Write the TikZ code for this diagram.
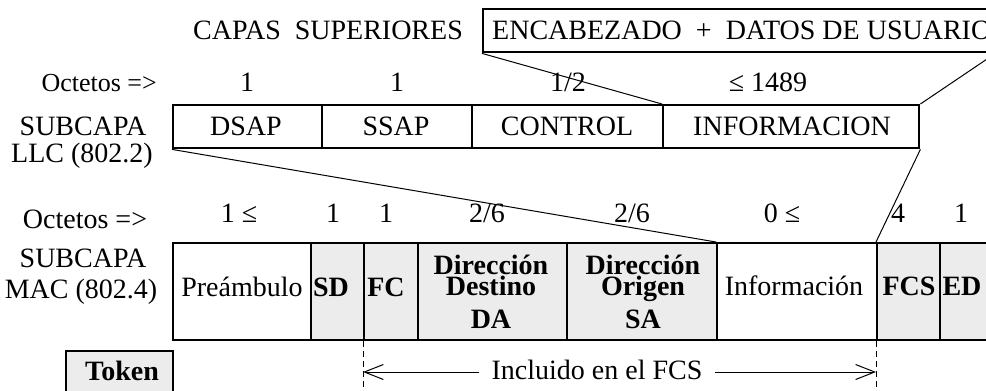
\documentclass[tikz,border=0pt]{standalone}
\usepackage{fontspec}
\setmainfont{Liberation Serif}
\usetikzlibrary{arrows.meta}
\definecolor{fieldgray}{RGB}{236,236,236}
\begin{document}
\begin{tikzpicture}[x=1pt,y=-1pt,
  every node/.style={font=\fontsize{28}{31}\selectfont, inner sep=0pt},
  field/.style={draw, line width=2.4pt, inner sep=0pt, anchor=north west},
  gfield/.style={field, fill=fieldgray},
  lbl/.style={anchor=base},
  blbl/.style={anchor=base, font=\fontsize{28}{31}\selectfont\bfseries},
  conn/.style={line width=1pt},
  dashline/.style={line width=1pt, dash pattern=on 6pt off 4pt},
  arr/.style={line width=1pt, -{Straight Barb[length=19pt,width=15pt]}}
]
\useasboundingbox (0,0) rectangle (986,391);

% upper layer box
\node[field, minimum width=511pt, minimum height=43pt] (enc) at (482,8) {};
\node[lbl, anchor=base west] (enct) at (492,39) {ENCABEZADO\ \ +\ \ DATOS DE USUARIO};
\node[lbl] (capas) at (328,39) {CAPAS\ \ SUPERIORES};

% LLC
\node[field, minimum width=149pt, minimum height=43pt] (dsap) at (172,104) {};
\node[field, minimum width=150pt, minimum height=43pt] (ssap) at (321,104) {};
\node[field, minimum width=191pt, minimum height=43pt] (ctrl) at (471,104) {};
\node[field, minimum width=256pt, minimum height=43pt] (infl) at (662,104) {};
\node[lbl] (tdsap) at (246,135) {DSAP};
\node[lbl] (tssap) at (396,135) {SSAP};
\node[lbl] (tctrl) at (567,135) {CONTROL};
\node[lbl] (tinfl) at (792,135) {INFORMACION};

\node[lbl, anchor=base east, font=\fontsize{26}{29}\selectfont] (oct1) at (157,91) {Octetos =>};
\node[lbl] (n1) at (247,91) {1};
\node[lbl] (n2) at (397,91) {1};
\node[lbl] (n3) at (568,91) {1/2};
\node[lbl] (n4) at (768,91) {≤ 1489};
\node[lbl] (sub1) at (83,135) {SUBCAPA};
\node[lbl] (llc) at (82,162) {LLC (802.2)};

% MAC
\node[field, minimum width=138pt, minimum height=97pt] (pre) at (172,242) {};
\node[gfield, minimum width=53pt, minimum height=97pt] (sd) at (310,242) {};
\node[gfield, minimum width=54pt, minimum height=97pt] (fc) at (363,242) {};
\node[gfield, minimum width=149pt, minimum height=97pt] (dd) at (417,242) {};
\node[gfield, minimum width=150pt, minimum height=97pt] (do) at (566,242) {};
\node[field, minimum width=160pt, minimum height=97pt] (inf) at (716,242) {};
\node[gfield, minimum width=63pt, minimum height=97pt] (fcs) at (876,242) {};
\node[gfield, minimum width=52pt, minimum height=97pt] (ed) at (939,242) {};

\node[lbl] (tpre) at (242,296) {Preámbulo};
\node[blbl] (tsd) at (331,296) {SD};
\node[blbl] (tfc) at (386,296) {FC};
\node[blbl] (tdd1) at (491,274) {Dirección};
\node[blbl] (tdd2) at (491,295) {Destino};
\node[blbl] (tdd3) at (491,328) {DA};
\node[blbl] (tdo1) at (643,274) {Dirección};
\node[blbl] (tdo2) at (643,295) {Origen};
\node[blbl] (tdo3) at (643,328) {SA};
\node[lbl] (tinf) at (794,295) {Información};
\node[blbl] (tfcs) at (909,295) {FCS};
\node[blbl] (ted) at (962,295) {ED};

\node[lbl] (oct2) at (85,228) {Octetos =>};
\node[lbl] (sub2) at (83,267) {SUBCAPA};
\node[lbl] (mac) at (81,298) {MAC (802.4)};
\node[lbl] (m1) at (239,222) {1 ≤};
\node[lbl] (m2) at (333,222) {1};
\node[lbl] (m3) at (386,222) {1};
\node[lbl] (m4) at (487,222) {2/6};
\node[lbl] (m5) at (632,222) {2/6};
\node[lbl] (m6) at (782,222) {0 ≤};
\node[lbl] (m7) at (898,222) {4};
\node[lbl] (m8) at (961,222) {1};

% Token
\node[gfield, minimum width=107pt, minimum height=60pt] (tok) at (65,350) {};
\node[blbl] (ttok) at (122,380) {Token};

% connectors
\draw[conn] (enc.south west) -- (infl.north west);
\draw[conn] (enc.south east) -- (infl.north east);
\draw[conn] (dsap.south west) -- (inf.north west);
\draw[conn] (infl.south east) -- (fcs.north west);

\coordinate (fcb) at (363,391);
\coordinate (fcsb) at (876,391);
\draw[dashline] (fc.south west) -- (fcb);
\draw[dashline] (fcs.south west) -- (fcsb);

\node[anchor=base, inner xsep=12pt, text height=14pt, text depth=0pt] (incl) at (597,379) {Incluido en el FCS};
\draw[arr] (incl.west) -- (incl.west -| fc.south west);
\draw[arr] (incl.east) -- (incl.east -| fcs.south west);
\end{tikzpicture}
\end{document}
